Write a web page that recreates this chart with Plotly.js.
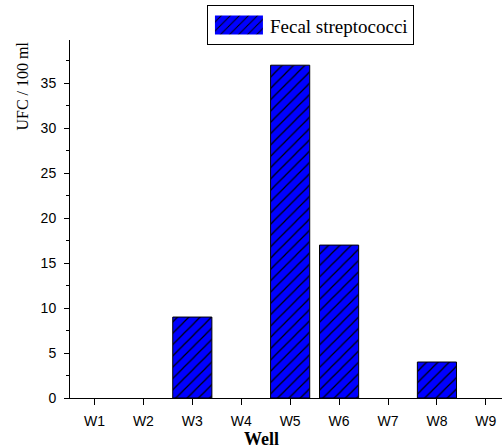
<!DOCTYPE html>
<html>
<head>
<meta charset="utf-8">
<script src="https://cdn.plot.ly/plotly-3.0.1.min.js"></script>
<style>html,body{margin:0;padding:0;overflow:hidden;background:#fff;}</style>
</head>
<body>
<div id="chart" style="width:502px;height:448px;"></div>
<script>
const wells = ["W1","W2","W3","W4","W5","W6","W7","W8","W9"];
const fecalStreptococci = [0, 0, 9, 0, 37, 17, 0, 4, 0];
const seriesName = "Fecal streptococci";
const yTitle = "UFC / 100 ml";
const xTitle = "Well";

const serif = "Liberation Serif, Times New Roman, serif";
const sans = "Liberation Sans, Arial, sans-serif";

const trace = {
  type: "bar",
  x: wells,
  y: fecalStreptococci,
  name: seriesName,
  width: 0.8,
  marker: {
    color: "#0000ff",
    line: {color: "#000000", width: fecalStreptococci.map(v => v > 0 ? 1 : 0)},
    pattern: {shape: "/", bgcolor: "#0000ff", fgcolor: "#000000", size: 8, solidity: 0.15, fillmode: "replace"}
  },
  showlegend: true
};

const layout = {
  width: 502, height: 448,
  margin: {l: 70, r: 0, t: 40, b: 50},
  paper_bgcolor: "#ffffff",
  plot_bgcolor: "#ffffff",
  showlegend: true,
  legend: {
    x: 0.317, y: 1.097, xanchor: "left", yanchor: "top",
    bordercolor: "#000000", borderwidth: 1, bgcolor: "#ffffff",
    itemwidth: 52,
    font: {family: serif, size: 19, color: "#000"}
  },
  xaxis: {
    type: "category",
    range: [-0.5, 8.33],
    showline: true, linecolor: "#000", linewidth: 1,
    ticks: "outside", ticklen: 6, tickcolor: "#000",
    ticklabelstandoff: 4,
    minor: {ticks: "outside", ticklen: 3, tickcolor: "#000"},
    showgrid: false, zeroline: false,
    tickfont: {family: sans, size: 14, color: "#000"}
  },
  yaxis: {
    range: [0, 39.8],
    dtick: 5,
    showline: true, linecolor: "#000", linewidth: 1,
    ticks: "outside", ticklen: 5, tickcolor: "#000",
    ticklabelstandoff: 5,
    minor: {dtick: 2.5, ticks: "outside", ticklen: 3, tickcolor: "#000"},
    showgrid: false, zeroline: false,
    tickfont: {family: sans, size: 14, color: "#000"}
  },
  annotations: [
    {text: yTitle, xref: "paper", yref: "paper", x: -0.111, y: 1.0, xanchor: "center", yanchor: "top",
     textangle: -90, showarrow: false, font: {family: serif, size: 16, color: "#000"}},
    {text: "<b>" + xTitle + "</b>", xref: "paper", yref: "paper", x: 0.444, y: -0.147, xanchor: "center", yanchor: "bottom",
     showarrow: false, font: {family: serif, size: 18, color: "#000"}}
  ]
};

Plotly.newPlot("chart", [trace], layout, {displayModeBar: false, staticPlot: true}).then(() => {
  document.querySelectorAll("#chart .legendpoints path").forEach(p => {
    p.setAttribute("d", "M24,9.5H-24V-9.5H24Z");
  });
});
</script>
</body>
</html>
